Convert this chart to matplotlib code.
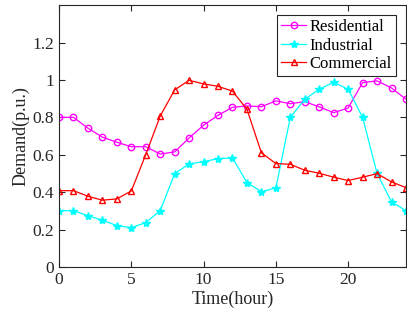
import numpy as np
import matplotlib.pyplot as plt

plt.rcParams['font.family'] = ['Liberation Serif', 'DejaVu Serif']

hours = np.arange(25)
residential = [0.80, 0.80, 0.742, 0.694, 0.667, 0.643, 0.643, 0.604, 0.615, 0.69,
               0.758, 0.811, 0.854, 0.861, 0.857, 0.888, 0.873, 0.884, 0.856, 0.825,
               0.850, 0.986, 0.995, 0.957, 0.897]
industrial = [0.301, 0.301, 0.274, 0.250, 0.221, 0.210, 0.237, 0.301, 0.499, 0.551,
              0.563, 0.579, 0.583, 0.451, 0.403, 0.422, 0.800, 0.897, 0.950, 0.988,
              0.950, 0.800, 0.500, 0.348, 0.301]
commercial = [0.408, 0.408, 0.378, 0.357, 0.364, 0.406, 0.601, 0.807, 0.947, 0.998,
              0.979, 0.966, 0.940, 0.843, 0.610, 0.553, 0.549, 0.517, 0.501, 0.480,
              0.462, 0.480, 0.499, 0.455, 0.424]

fig = plt.figure(figsize=(4.07, 3.22), dpi=100)
ax = fig.add_axes([0.145, 0.171, 0.8525, 0.813])

ax.plot(hours, residential, color='#ff00ff', marker='o', markersize=4.6,
        markerfacecolor='none', linewidth=0.9, label='Residential')
ax.plot(hours, industrial, color='#00ffff', marker='*', markersize=6,
        linewidth=0.9, label='Industrial')
ax.plot(hours, commercial, color='#ff0000', marker='^', markersize=5,
        markerfacecolor='none', linewidth=0.9, label='Commercial')

ax.set_xlim(0, 24)
ax.set_ylim(0, 1.4)
ax.set_xticks([0, 5, 10, 15, 20])
ax.set_yticks([0, 0.2, 0.4, 0.6, 0.8, 1.0, 1.2])
ax.set_yticklabels(['0', '0.2', '0.4', '0.6', '0.8', '1', '1.2'])
ax.tick_params(direction='in', top=True, right=True, labelsize=12.5,
               length=4, width=0.8, colors='#262626', labelcolor='#262626')
for s in ax.spines.values():
    s.set_linewidth(0.8)
    s.set_color('#262626')

ax.set_xlabel('Time(hour)', fontsize=13, color='#262626', labelpad=2)
ax.set_ylabel('Demand(p.u.)', fontsize=13, color='#262626', labelpad=2)

leg = ax.legend(loc='upper right', fontsize=12, frameon=True, fancybox=False,
                edgecolor='#262626', framealpha=1, borderpad=0.25,
                labelspacing=0.15, handlelength=1.5, handletextpad=0.2,
                borderaxespad=0.6)
leg.get_frame().set_linewidth(0.8)

fig.savefig('out.png', dpi=100)
